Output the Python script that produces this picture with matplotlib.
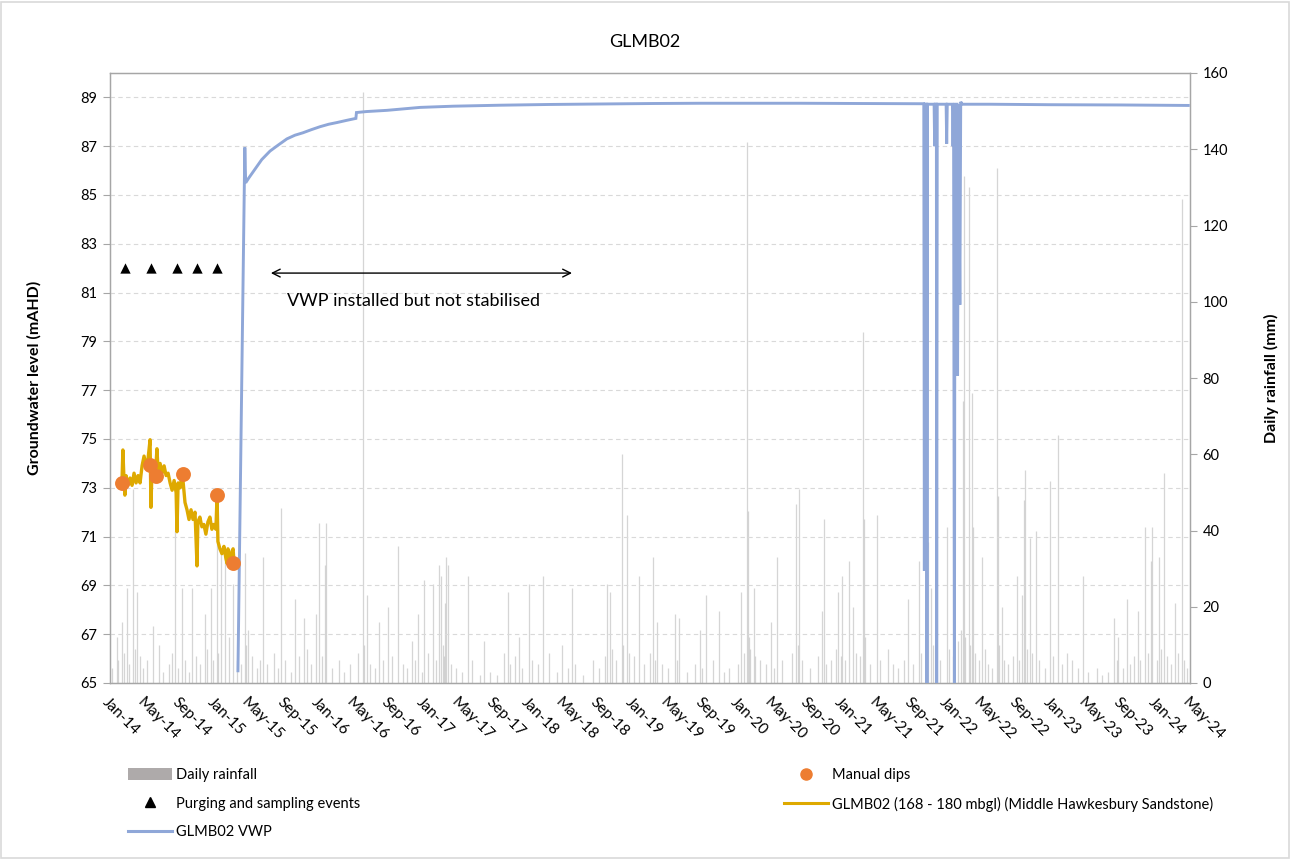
import matplotlib
matplotlib.use("Agg")
import matplotlib.pyplot as plt
import matplotlib.dates as mdates
from matplotlib.lines import Line2D
from matplotlib.patches import Patch, Rectangle
import numpy as np
import pandas as pd

plt.rcParams['font.family'] = ['Lato', 'DejaVu Sans']

# ---------------- data ----------------
# Daily rainfall (mm): main events
rain_dates = [
    "2014-01-25", "2014-02-12", "2014-03-01", "2014-03-22", "2014-04-05", "2014-05-31",
    "2014-08-16", "2014-09-10", "2014-10-15", "2014-11-29", "2014-12-20", "2015-01-10",
    "2015-01-24", "2015-02-07", "2015-03-07", "2015-04-18", "2015-04-28", "2015-06-20",
    "2015-08-21", "2015-10-09", "2015-11-10", "2015-12-22", "2016-01-01", "2016-01-22",
    "2016-01-26", "2016-06-03", "2016-06-17", "2016-07-29", "2016-08-29", "2016-10-03",
    "2016-11-21", "2016-12-12", "2017-01-02", "2017-02-03", "2017-02-24", "2017-03-03",
    "2017-03-17", "2017-03-20", "2017-03-27", "2017-06-05", "2017-07-31", "2017-10-23",
    "2017-11-30", "2018-01-04", "2018-02-22", "2018-04-29", "2018-06-03", "2018-10-04",
    "2018-10-14", "2018-11-25", "2018-12-12", "2019-01-23", "2019-03-13", "2019-03-27",
    "2019-05-29", "2019-06-12", "2019-08-24", "2019-09-14", "2019-10-30", "2020-01-15",
    "2020-02-05", "2020-02-08", "2020-02-29", "2020-04-29", "2020-05-20", "2020-07-25",
    "2020-08-04", "2020-10-24", "2020-10-31", "2020-12-19", "2021-01-02", "2021-01-26",
    "2021-02-09", "2021-03-16", "2021-03-20", "2021-05-04", "2021-08-20", "2021-09-28",
    "2021-10-29", "2021-11-09", "2022-01-04", "2022-02-28", "2022-03-03", "2022-03-20",
    "2022-03-31", "2022-04-03", "2022-05-05", "2022-06-26", "2022-06-30", "2022-07-14",
    "2022-09-04", "2022-09-22", "2022-09-29", "2022-10-02", "2022-10-20", "2022-11-10",
    "2022-12-28", "2023-01-25", "2023-04-23", "2023-08-09", "2023-08-23", "2023-09-23",
    "2023-11-01", "2023-11-25", "2023-12-16", "2023-12-20", "2024-01-13", "2024-01-31",
    "2024-03-09", "2024-04-03",
]
rain_mm = [
    12, 16, 25, 51, 24, 15,
    40, 25, 25, 18, 25, 48,
    35, 34, 26, 34, 14, 33,
    46, 22, 17, 18, 42, 31,
    42, 155, 23, 16, 20, 36,
    11, 18, 27, 26, 31, 28,
    21, 33, 31, 28, 11, 24,
    12, 26, 28, 10, 25, 26,
    24, 60, 44, 28, 33, 16,
    18, 17, 14, 23, 19, 24,
    142, 45, 25, 16, 33, 47,
    51, 19, 43, 24, 28, 32,
    20, 92, 43, 44, 22, 32,
    37, 25, 41, 74, 133, 130,
    76, 41, 33, 135, 49, 20,
    28, 23, 48, 56, 38, 40,
    53, 65, 28, 17, 12, 22,
    19, 41, 32, 41, 33, 55,
    21, 127,
]
# Daily rainfall (mm): smaller falls
small_rain_dates = [
    "2014-01-08", "2014-01-30", "2014-02-20", "2014-03-10", "2014-03-28", "2014-04-15", "2014-04-25",
    "2014-05-10", "2014-06-20", "2014-07-05", "2014-07-25", "2014-08-05", "2014-08-28", "2014-09-20",
    "2014-10-05", "2014-10-28", "2014-11-12", "2014-12-05", "2014-12-28",
    "2015-01-15", "2015-02-20", "2015-03-20", "2015-04-05", "2015-04-22", "2015-05-12", "2015-05-30",
    "2015-06-08", "2015-07-05", "2015-07-28", "2015-08-10", "2015-09-05", "2015-09-25", "2015-10-25",
    "2015-11-20", "2015-12-05",
    "2016-01-10", "2016-02-15", "2016-03-10", "2016-03-28", "2016-04-20", "2016-05-15", "2016-06-05",
    "2016-06-28", "2016-07-15", "2016-08-10", "2016-09-12", "2016-10-20", "2016-11-05", "2016-12-01",
    "2016-12-25",
    "2017-01-15", "2017-02-12", "2017-03-08", "2017-03-12", "2017-04-05", "2017-04-25", "2017-05-15",
    "2017-06-20", "2017-07-15", "2017-08-20", "2017-09-15", "2017-10-10", "2017-10-30", "2017-11-15",
    "2017-12-10",
    "2018-01-15", "2018-02-05", "2018-03-15", "2018-04-10", "2018-05-20", "2018-06-15", "2018-07-10",
    "2018-08-15", "2018-09-05", "2018-09-25", "2018-10-20", "2018-11-05", "2018-11-28", "2018-12-20",
    "2019-01-05", "2019-02-10", "2019-03-01", "2019-03-20", "2019-04-15", "2019-05-05", "2019-06-05",
    "2019-07-10", "2019-08-05", "2019-09-01", "2019-10-10", "2019-11-15", "2019-12-05",
    "2020-01-05", "2020-01-25", "2020-02-10", "2020-02-15", "2020-03-05", "2020-03-20", "2020-04-10",
    "2020-05-10", "2020-06-05", "2020-07-10", "2020-07-30", "2020-08-15", "2020-09-10", "2020-10-10",
    "2020-11-05", "2020-11-25", "2020-12-10", "2020-12-28",
    "2021-01-12", "2021-02-20", "2021-03-05", "2021-03-22", "2021-04-10", "2021-05-15", "2021-06-10",
    "2021-06-28", "2021-07-15", "2021-08-05", "2021-09-05", "2021-10-05", "2021-10-20", "2021-11-15",
    "2021-11-25", "2021-12-10",
    "2022-01-10", "2022-01-25", "2022-02-10", "2022-02-20", "2022-03-08", "2022-03-25", "2022-04-10",
    "2022-04-25", "2022-05-15", "2022-05-28", "2022-06-10", "2022-07-05", "2022-07-20", "2022-08-05",
    "2022-08-20", "2022-09-10", "2022-10-10", "2022-10-28", "2022-11-20", "2022-12-10",
    "2023-01-10", "2023-02-10", "2023-02-25", "2023-03-15", "2023-04-05", "2023-05-10", "2023-06-10",
    "2023-06-28", "2023-07-20", "2023-08-20", "2023-09-10", "2023-10-05", "2023-10-20", "2023-11-10",
    "2023-12-05",
    "2024-01-05", "2024-01-20", "2024-02-10", "2024-02-25", "2024-03-20", "2024-04-10", "2024-04-20",
]
small_rain_mm = [
    4, 6, 8, 5, 9, 7, 4,
    6, 10, 3, 5, 8, 4, 6,
    3, 7, 5, 9, 6,
    8, 12, 6, 5, 10, 7, 4,
    6, 5, 8, 4, 6, 3, 7,
    9, 5,
    7, 4, 6, 3, 5, 8, 10,
    5, 4, 6, 7, 5, 4, 6,
    3,
    8, 6, 10, 7, 5, 4, 3,
    6, 2, 3, 2, 8, 5, 7,
    4,
    6, 5, 8, 3, 4, 5, 2,
    6, 4, 7, 9, 6, 10, 8,
    7, 5, 8, 6, 5, 4, 6,
    3, 5, 4, 6, 3, 4,
    5, 8, 12, 9, 7, 6, 5,
    4, 6, 8, 10, 6, 4, 7,
    5, 6, 9, 7,
    6, 8, 7, 12, 5, 6, 9,
    5, 4, 6, 5, 8, 7, 10,
    8, 6,
    9, 7, 11, 14, 12, 10, 8,
    6, 9, 5, 4, 10, 6, 5,
    7, 6, 9, 8, 6, 4,
    7, 5, 8, 6, 4, 3, 4,
    2, 3, 6, 4, 5, 7, 6,
    8,
    6, 9, 7, 5, 8, 6, 4,
]

# Logger (GLMB02 168 - 180 mbgl), mAHD
logger_dates = [
    "2014-02-12", "2014-02-15", "2014-02-19", "2014-02-22", "2014-02-26", "2014-03-05", "2014-03-12",
    "2014-03-19", "2014-03-26", "2014-04-02", "2014-04-09", "2014-04-16", "2014-04-23", "2014-04-30",
    "2014-05-07", "2014-05-14", "2014-05-21", "2014-05-24", "2014-05-28", "2014-06-04", "2014-06-11",
    "2014-06-14", "2014-06-18", "2014-06-25", "2014-07-02", "2014-07-09", "2014-07-16", "2014-07-23",
    "2014-07-30", "2014-08-06", "2014-08-13", "2014-08-20", "2014-08-23", "2014-08-27", "2014-09-03",
    "2014-09-10", "2014-09-13", "2014-09-20", "2014-09-27", "2014-10-04", "2014-10-11", "2014-10-18",
    "2014-10-25", "2014-11-01", "2014-11-04", "2014-11-11", "2014-11-18", "2014-11-25", "2014-12-02",
    "2014-12-09", "2014-12-16", "2014-12-23", "2014-12-30", "2015-01-06", "2015-01-10", "2015-01-13",
    "2015-01-20", "2015-01-27", "2015-02-03", "2015-02-10", "2015-02-14", "2015-02-17", "2015-02-24",
    "2015-03-03", "2015-03-07", "2015-03-10", "2015-03-14",
]
logger_level = [
    73.3, 74.55, 73.3, 72.7, 73.5, 73.1, 73.4,
    73.1, 73.6, 73.2, 73.5, 73.2, 73.9, 74.3,
    73.9, 74.2, 74.97, 72.2, 73.9, 73.6, 74.0,
    74.6, 73.7, 74.0, 73.6, 73.9, 73.5, 73.6,
    73.2, 72.9, 73.3, 72.8, 71.2, 73.2, 73.0,
    73.6, 73.3, 72.4, 72.1, 71.7, 72.1, 71.7,
    72.0, 69.8, 71.6, 71.8, 71.4, 71.5, 71.1,
    71.6, 71.8, 71.3, 71.5, 71.3, 72.7, 70.8,
    70.5, 70.3, 70.6, 70.1, 69.9, 70.5, 70.0,
    70.4, 70.5, 70.0, 69.9,
]

# Manual dips, mAHD
dip_dates = ["2014-02-11", "2014-05-20", "2014-06-12", "2014-09-12", "2015-01-10", "2015-03-07"]
dip_level = [73.2, 73.95, 73.5, 73.55, 72.7, 69.9]

# Purging and sampling events (plotted at a fixed level)
purge_dates = ["2014-02-22", "2014-05-24", "2014-08-23", "2014-11-01", "2015-01-10"]
purge_level = [82.0, 82.0, 82.0, 82.0, 82.0]

# VWP, mAHD
vwp_dates = [
    "2015-03-24", "2015-04-17", "2015-04-20", "2015-05-01", "2015-05-16", "2015-06-15", "2015-07-14",
    "2015-08-12", "2015-09-11", "2015-10-09", "2015-11-06", "2015-12-06", "2016-01-05", "2016-02-04",
    "2016-03-04", "2016-04-07", "2016-05-09", "2016-05-11", "2016-06-15", "2016-08-26", "2016-12-19",
    "2017-04-15", "2017-09-25", "2018-03-15", "2018-09-09", "2019-03-15", "2019-08-24", "2020-03-15",
    "2020-08-08", "2021-03-01", "2021-10-14", "2021-10-16", "2021-10-18", "2021-10-24", "2021-10-25",
    "2021-10-27", "2021-11-19", "2021-11-21", "2021-11-23", "2021-11-27", "2021-11-28", "2021-11-30",
    "2021-12-31", "2022-01-02", "2022-01-04", "2022-01-22", "2022-01-24", "2022-01-26", "2022-01-29",
    "2022-01-31", "2022-02-07", "2022-02-09", "2022-02-12", "2022-02-17", "2022-02-20", "2022-02-25",
    "2022-06-01", "2023-01-01", "2023-09-01", "2024-04-25",
]
vwp_level = [
    65.5, 86.95, 85.5, 85.7, 85.95, 86.45, 86.8,
    87.05, 87.3, 87.45, 87.55, 87.68, 87.8, 87.9,
    87.97, 88.06, 88.14, 88.38, 88.42, 88.47, 88.59,
    88.64, 88.68, 88.71, 88.73, 88.75, 88.76, 88.76,
    88.76, 88.75, 88.74, 69.6, 88.72, 88.72, 64.0,
    88.72, 88.72, 87.0, 88.72, 88.72, 64.0, 88.72,
    88.72, 87.1, 88.72, 88.72, 87.0, 88.72, 64.0,
    88.72, 88.72, 77.6, 88.72, 80.5, 88.82, 88.72,
    88.72, 88.7, 88.69, 88.67,
]

# arrow annotation
arrow_start = "2015-07-17"
arrow_end = "2018-06-03"
arrow_level = 81.8
note_text = "VWP installed but not stabilised"
note_date = "2016-11-25"
note_level = 80.65

x_start, x_end = "2014-01-01", "2024-05-01"

# ---------------- colours ----------------
c_rain = "#c4c4c4"
c_rain_leg = "#aeaaaa"
c_vwp = "#8FA7D8"
c_logger = "#DEA900"
c_dips = "#ED7D31"

# ---------------- figure ----------------
fig = plt.figure(figsize=(12.9, 8.59), dpi=100)
fig.patches.append(Rectangle((0.001, 0.001), 0.998, 0.997, transform=fig.transFigure,
                             fill=False, edgecolor="#d9d9d9", linewidth=1.2))

ax = fig.add_axes([110/1290, 1-683/859, 1080/1290, 610/859])
ax2 = ax.twinx()
ax.set_zorder(ax2.get_zorder() + 1)
ax.patch.set_visible(False)

# rainfall on right axis
rd = pd.to_datetime(small_rain_dates + rain_dates)
rv = small_rain_mm + rain_mm
ax2.vlines(rd, 0, rv, colors=c_rain, linewidth=0.9, alpha=0.7)
ax2.set_ylim(0, 160)
ax2.set_yticks(np.arange(0, 161, 20))

# levels on left axis
ax.plot(pd.to_datetime(vwp_dates), vwp_level, color=c_vwp, lw=2.1, solid_joinstyle='miter', zorder=3)
ax.plot(pd.to_datetime(logger_dates), logger_level, color=c_logger, lw=2.4, zorder=4)
ax.scatter(pd.to_datetime(dip_dates), dip_level, s=115, color=c_dips, zorder=5, linewidths=0)
ax.scatter(pd.to_datetime(purge_dates), purge_level, marker="^", s=55, color="black", zorder=5, linewidths=0)

ax.set_ylim(65, 90)
ax.set_yticks(np.arange(65, 90, 2))
ax.set_xlim(pd.Timestamp(x_start), pd.Timestamp(x_end))
ax.xaxis.set_major_locator(mdates.MonthLocator(bymonth=[1, 5, 9]))
ax.xaxis.set_major_formatter(mdates.DateFormatter("%b-%y"))
for lab in ax.get_xticklabels():
    lab.set_rotation(-45)
    lab.set_ha("left")
    lab.set_va("top")
    lab.set_rotation_mode("anchor")

ax.grid(axis="y", color="#d9d9d9", linestyle=(0, (4, 3)), linewidth=0.8)
ax.set_axisbelow(True)

for a in (ax, ax2):
    for s in a.spines.values():
        s.set_color("#a6a6a6")
        s.set_linewidth(0.9)
ax.tick_params(axis="x", length=0, pad=9, labelsize=11)
ax.tick_params(axis="y", length=5, color="#a6a6a6", labelsize=10.5, pad=4)
ax2.tick_params(axis="y", length=5, color="#a6a6a6", labelsize=10.5, pad=4)

ax.set_ylabel("Groundwater level (mAHD)", fontsize=11.5, fontweight="bold", labelpad=28)
ax2.set_ylabel("Daily rainfall (mm)", fontsize=11.5, fontweight="bold", labelpad=26)

# annotation
ax.annotate("", xy=(pd.Timestamp(arrow_start), arrow_level), xytext=(pd.Timestamp(arrow_end), arrow_level),
            arrowprops=dict(arrowstyle="<->", color="black", lw=1.0, mutation_scale=14, shrinkA=0, shrinkB=0))
ax.text(pd.Timestamp(note_date), note_level, note_text, ha="center", va="center", fontsize=13)

fig.text(0.5, 1-42/859, "GLMB02", ha="center", va="center", fontsize=13)

# legend
h_rain = Patch(facecolor=c_rain_leg, edgecolor="none")
h_purge = Line2D([], [], marker="^", color="black", linestyle="none", markersize=7)
h_vwp = Line2D([], [], color=c_vwp, lw=2.2)
h_dips = Line2D([], [], marker="o", color=c_dips, linestyle="none", markersize=8)
h_logger = Line2D([], [], color=c_logger, lw=2.2)

leg_kw = dict(frameon=False, fontsize=10.5, handlelength=3.0, handleheight=0.8, handletextpad=0.3,
              labelspacing=1.0, borderaxespad=0, borderpad=0)
leg1 = fig.legend([h_rain, h_purge, h_vwp], ["Daily rainfall", "Purging and sampling events", "GLMB02 VWP"],
                  loc="upper left", bbox_to_anchor=(128/1290, 1-768/859), **leg_kw)
leg2 = fig.legend([h_dips, h_logger], ["Manual dips", "GLMB02 (168 - 180 mbgl) (Middle Hawkesbury Sandstone)"],
                  loc="upper left", bbox_to_anchor=(784/1290, 1-768/859), **leg_kw)

fig.savefig("out.png", dpi=100)
